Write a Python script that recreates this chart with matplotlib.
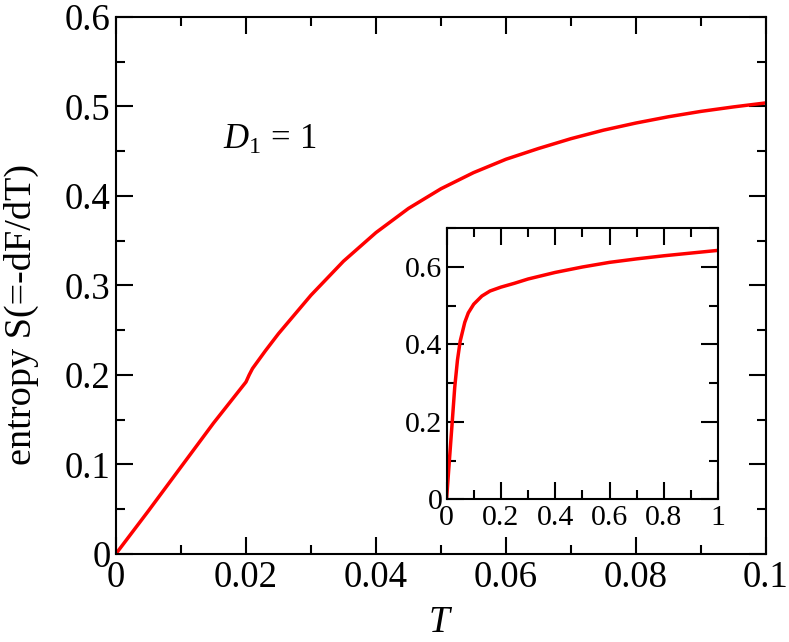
import matplotlib
matplotlib.use("Agg")
import matplotlib.pyplot as plt
from matplotlib.ticker import MultipleLocator

plt.rcParams['font.family'] = ['Liberation Serif', 'DejaVu Serif']
plt.rcParams['mathtext.fontset'] = 'custom'
plt.rcParams['mathtext.rm'] = 'Liberation Serif'
plt.rcParams['mathtext.it'] = 'Liberation Serif:italic'

# main panel data
T_main = [0, 0.005, 0.010, 0.015, 0.0175, 0.0200, 0.0205, 0.0210, 0.023,
          0.025, 0.030, 0.035, 0.040, 0.045, 0.050, 0.055, 0.060, 0.065,
          0.070, 0.075, 0.080, 0.085, 0.090, 0.095, 0.100]
S_main = [0, 0.048, 0.097, 0.146, 0.169, 0.192, 0.200, 0.207, 0.227,
          0.246, 0.289, 0.327, 0.359, 0.386, 0.408, 0.426, 0.441, 0.453,
          0.464, 0.4735, 0.4815, 0.4885, 0.4945, 0.4995, 0.504]

# inset data
T_ins = [0, 0.01, 0.02, 0.03, 0.04, 0.05, 0.067, 0.08, 0.1, 0.13, 0.16, 0.2,
         0.25, 0.3, 0.4, 0.5, 0.6, 0.7, 0.8, 0.9, 1.0]
S_ins = [0, 0.097, 0.192, 0.289, 0.359, 0.408, 0.457, 0.4815, 0.504, 0.525,
         0.538, 0.548, 0.558, 0.569, 0.586, 0.600, 0.612, 0.621, 0.629,
         0.636, 0.643]

main_xticks = [0, 0.02, 0.04, 0.06, 0.08, 0.1]
main_xlabels = ['0', '0.02', '0.04', '0.06', '0.08', '0.1']
main_yticks = [0, 0.1, 0.2, 0.3, 0.4, 0.5, 0.6]
main_ylabels = ['0', '0.1', '0.2', '0.3', '0.4', '0.5', '0.6']
ins_xticks = [0, 0.2, 0.4, 0.6, 0.8, 1.0]
ins_xlabels = ['0', '0.2', '0.4', '0.6', '0.8', '1']
ins_yticks = [0, 0.2, 0.4, 0.6]
ins_ylabels = ['0', '0.2', '0.4', '0.6']

fig = plt.figure(figsize=(7.89, 6.42), dpi=100)
ax = fig.add_axes([0.147, 0.1375, 0.8238, 0.836])
ax.plot(T_main, S_main, color='#ff0000', lw=2.5)
ax.set_xlim(0, 0.1)
ax.set_ylim(0, 0.6)
ax.set_xticks(main_xticks)
ax.set_xticklabels(main_xlabels)
ax.set_yticks(main_yticks)
ax.set_yticklabels(main_ylabels)
ax.xaxis.set_minor_locator(MultipleLocator(0.01))
ax.yaxis.set_minor_locator(MultipleLocator(0.05))
ax.tick_params(which='both', direction='in', top=True, right=True, width=1.5)
ax.tick_params(which='major', length=12.5, labelsize=26.5)
ax.tick_params(which='minor', length=6.5)
ax.tick_params(axis='x', pad=5)
ax.tick_params(axis='y', pad=4)
for s in ax.spines.values():
    s.set_linewidth(1.5)
ax.set_xlabel(r'$T$', fontsize=27)
ax.xaxis.set_label_coords(0.5, -0.096)
ax.set_ylabel('entropy S(=-dF/dT)', fontsize=27.5)
ax.yaxis.set_label_coords(-0.1185, 0.4466)
ax.text(0.0164, 0.453, r'$D_{1}\,=\,1$', fontsize=25, ha='left', va='baseline',
        transform=ax.transData)

ins = fig.add_axes([0.566, 0.2223, 0.3442, 0.4221])
ins.plot(T_ins, S_ins, color='#ff0000', lw=2.5)
ins.set_xlim(0, 1)
ins.set_ylim(0, 0.7)
ins.set_xticks(ins_xticks)
ins.set_xticklabels(ins_xlabels)
ins.set_yticks(ins_yticks)
ins.set_yticklabels(ins_ylabels)
ins.xaxis.set_minor_locator(MultipleLocator(0.1))
ins.yaxis.set_minor_locator(MultipleLocator(0.1))
ins.tick_params(which='both', direction='in', top=True, right=True, width=1.5)
ins.tick_params(which='major', length=12.5, labelsize=21.5)
ins.tick_params(which='minor', length=6.5)
ins.tick_params(axis='x', pad=4)
ins.tick_params(axis='y', pad=3)
for s in ins.spines.values():
    s.set_linewidth(1.5)

fig.savefig('out.png', dpi=100)
